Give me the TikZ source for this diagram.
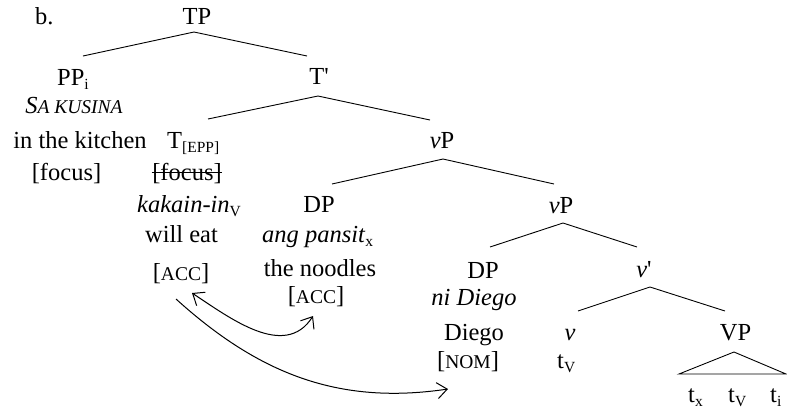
\documentclass[tikz,border=0pt]{standalone}
\usepackage{fontspec}
\setmainfont{Liberation Serif}[Ligatures=TeXOff]
\usetikzlibrary{arrows.meta}
% faked small capitals and lowered subscripts
\newcommand\smcap[1]{{\fontsize{19.5bp}{19.5bp}\selectfont #1}}
\newcommand\lowsub[1]{\raisebox{-4.5bp}{\fontsize{15.5bp}{15.5bp}\selectfont #1}}
\begin{document}
\begin{tikzpicture}[x=1bp,y=-1bp,
  every node/.style={inner sep=0pt, font=\fontsize{24.5bp}{29bp}\selectfont},
  lbl/.style={anchor=base},
  lblw/.style={anchor=base west},
  branch/.style={line width=0.9bp},
  link/.style={line width=1bp},
  >={Straight Barb[length=10bp,width=16bp,line width=1bp]}]
\useasboundingbox (0,0) rectangle (787,410);

% example label
\node[lblw] (ex) at (35,24) {b.};

% category labels and words
\node[lbl]  (TP)   at (197,24)  {TP};
\node[lblw] (PP)   at (57,85)   {PP\lowsub{i}};
\node[lbl]  (sak)  at (74,113)  {\itshape S\smcap{A KUSINA}};
\node[lbl]  (kit)  at (80,148)  {in the kitchen};
\node[lbl]  (foc)  at (66.5,180) {[focus]};
\node[lbl]  (Tbar) at (319,84)  {T'};
\node[lblw] (T)    at (167,148) {T\lowsub{[EPP]}};
\node[lbl]  (focx) at (187,180) {[focus]};
\node[lbl]  (vP)   at (442,148) {\textit{v}P};
\node[lblw] (kak)  at (137,212) {\textit{kakain-in}\lowsub{V}};
\node[lbl]  (eat)  at (181.5,242) {will eat};
\node[lbl]  (acca) at (181,280) {[\smcap{ACC}]};
\node[lbl]  (DPa)  at (319,212) {DP};
\node[lblw] (pan)  at (262,242) {\textit{ang pansit}\lowsub{x}};
\node[lbl]  (nood) at (320,276) {the noodles};
\node[lbl]  (accb) at (316,303) {[\smcap{ACC}]};
\node[lbl]  (vPb)  at (561,213) {\textit{v}P};
\node[lbl]  (DPb)  at (483,278) {DP};
\node[lbl]  (nid)  at (474,305) {\textit{ni Diego}};
\node[lbl]  (dieg) at (474,340) {Diego};
\node[lbl]  (nom)  at (468,368) {[\smcap{NOM}]};
\node[lbl]  (vbar) at (644,277) {\textit{v}'};
\node[lbl]  (v)    at (570,340) {\textit{v}};
\node[lblw] (tv)   at (557,368) {t\lowsub{V}};
\node[lbl]  (VP)   at (735.5,340) {VP};
\node[lblw] (trx)  at (688,402) {t\lowsub{x}};
\node[lblw] (trv)  at (728,402) {t\lowsub{V}};
\node[lblw] (tri)  at (770,402) {t\lowsub{i}};

% struck-out feature
\draw[line width=1bp] ([xshift=-0.5bp,yshift=8bp]focx.base west) -- ([xshift=0.5bp,yshift=8bp]focx.base east);

% branch points
\coordinate (TP-b)   at (194,32);
\coordinate (PP-t)   at (83,56);
\coordinate (Tbar-t) at (307,56);
\coordinate (Tbar-b) at (318,96);
\coordinate (T-t)    at (208,119);
\coordinate (vP-t)   at (430,120);
\coordinate (vP-b)   at (443,159);
\coordinate (DPa-t)  at (332,184);
\coordinate (vPb-t)  at (554,184);
\coordinate (vPb-b)  at (563,223);
\coordinate (DPb-t)  at (490,247);
\coordinate (vbar-t) at (637,247);
\coordinate (vbar-b) at (650,287);
\coordinate (v-t)    at (578,311);
\coordinate (VP-t)   at (725,311);
\coordinate (VP-b)   at (734,352);
\coordinate (VP-l)   at (679,374);
\coordinate (VP-r)   at (786,374);

\draw[branch] (PP-t) -- (TP-b) -- (Tbar-t);
\draw[branch] (T-t) -- (Tbar-b) -- (vP-t);
\draw[branch] (DPa-t) -- (vP-b) -- (vPb-t);
\draw[branch] (DPb-t) -- (vPb-b) -- (vbar-t);
\draw[branch] (v-t) -- (vbar-b) -- (VP-t);
\draw[branch] (VP-b) -- (VP-l) -- (VP-r) -- cycle;

% case agreement arrows
\coordinate (acca-r) at (192,293);
\coordinate (accb-l) at (313,316);
\coordinate (acca-o) at (176,299);
\coordinate (nom-l)  at (448,389);
\draw[link, <->]
  (acca-r) .. controls (230,318) and (285,360) .. (accb-l);
\draw[link, ->]
  (acca-o) .. controls (260,375) and (340,405) .. (nom-l);
\end{tikzpicture}
\end{document}
